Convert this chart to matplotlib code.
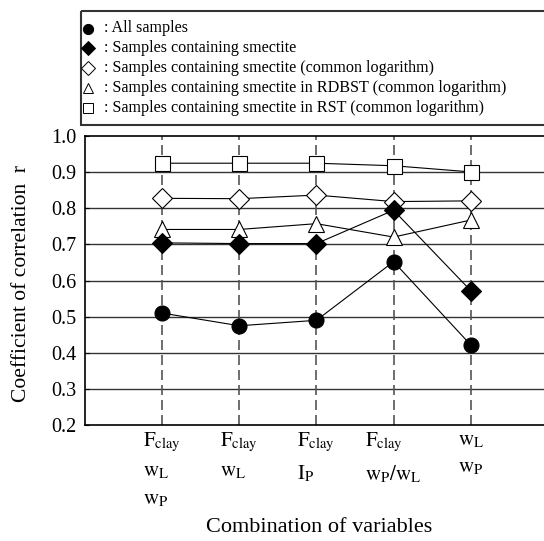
import matplotlib
matplotlib.use('Agg')
import matplotlib.pyplot as plt
from matplotlib.patches import Rectangle

plt.rcParams['font.family'] = ['Liberation Serif', 'DejaVu Serif']
plt.rcParams['mathtext.fontset'] = 'stix'

# Kombinationen der Variablen (x-Achse)
combos = [
    r'$\mathrm{F}_{\mathrm{clay}}$' + '\n' + r'$\mathrm{w}_{\mathrm{L}}$' + '\n' + r'$\mathrm{w}_{\mathrm{P}}$',
    r'$\mathrm{F}_{\mathrm{clay}}$' + '\n' + r'$\mathrm{w}_{\mathrm{L}}$',
    r'$\mathrm{F}_{\mathrm{clay}}$' + '\n' + r'$\mathrm{I}_{\mathrm{P}}$',
    r'$\mathrm{F}_{\mathrm{clay}}$' + '\n' + r'$\mathrm{w}_{\mathrm{P}}/\mathrm{w}_{\mathrm{L}}$',
    r'$\mathrm{w}_{\mathrm{L}}$' + '\n' + r'$\mathrm{w}_{\mathrm{P}}$',
]
x_pos = [1, 2, 3, 4, 5]

# Korrelationskoeffizienten r
all_samples = [0.51, 0.475, 0.49, 0.652, 0.422]
smectite = [0.704, 0.702, 0.702, 0.794, 0.572]
smectite_log = [0.827, 0.826, 0.836, 0.818, 0.82]
rdbst_log = [0.741, 0.741, 0.757, 0.72, 0.767]
rst_log = [0.924, 0.924, 0.924, 0.917, 0.90]

legend_labels = [
    'All samples',
    'Samples containing smectite',
    'Samples containing smectite (common logarithm)',
    'Samples containing smectite in RDBST (common logarithm)',
    'Samples containing smectite in RST (common logarithm)',
]

# Marker-Stile pro Serie (gleiche Reihenfolge wie legend_labels)
styles = [
    dict(marker='o', mfc='black', ms=10.8),
    dict(marker='D', mfc='black', ms=10.0),
    dict(marker='D', mfc='white', ms=10.0),
    dict(marker='^', mfc='white', ms=11.5),
    dict(marker='s', mfc='white', ms=10.8),
]
series = [all_samples, smectite, smectite_log, rdbst_log, rst_log]

fig = plt.figure(figsize=(5.44, 5.41), dpi=100)
W, H = 544, 541
ax = fig.add_axes([85 / W, 1 - 425.3 / H, (W - 85) / W, (425.3 - 135.7) / H])

# Gitternetz
for yv in [0.3, 0.4, 0.5, 0.6, 0.7, 0.8, 0.9]:
    ax.axhline(yv, color='#333333', lw=1.0, zorder=1)
for xv in x_pos:
    ax.axvline(xv, color='#555555', lw=1.2, dashes=(6, 3), zorder=1)

# Serien, gefüllte Marker oben
for vals, st in reversed(list(zip(series, styles))):
    ax.plot(x_pos, vals, color='black', lw=0.8, marker=st['marker'],
            mfc=st['mfc'], mec='black', mew=0.8, ms=st['ms'], zorder=3)

ax.set_xlim(0, 5.95)
ax.set_ylim(0.2, 1.0)
ax.set_yticks([0.2, 0.3, 0.4, 0.5, 0.6, 0.7, 0.8, 0.9, 1.0])
ax.set_yticklabels(['0.2', '0.3', '0.4', '0.5', '0.6', '0.7', '0.8', '0.9', '1.0'])
ax.tick_params(axis='y', direction='in', length=3, labelsize=14.5, pad=6)
ax.set_xticks([])
ax.spines['right'].set_visible(False)
for s in ['left', 'bottom', 'top']:
    ax.spines[s].set_linewidth(1.2)

# x-Beschriftungen (mehrzeilig)
for xv, lab in zip(x_pos, combos):
    ax.annotate(lab, xy=(xv, 0), xycoords=('data', 'axes fraction'),
                xytext=(0, -4), textcoords='offset points', ha='center', va='top',
                multialignment='left', fontsize=15, linespacing=1.6)

ax.text(-0.138, 0.49, 'Coefficient of correlation  r', rotation=90, transform=ax.transAxes,
        ha='center', va='center', fontsize=15.5)
fig.text(319 / W, 1 - 528 / H, 'Combination of variables', ha='center', va='center', fontsize=16)

# Legende manuell
lax = fig.add_axes([0, 0, 1, 1], zorder=5)
lax.set_xlim(0, W)
lax.set_ylim(H, 0)
lax.axis('off')
lax.add_patch(Rectangle((81, 10.7), 480, 114.5, fill=False, ec='#333333', lw=1.5))
for i, (lab, st) in enumerate(zip(legend_labels, styles)):
    yy = 28.5 + i * 19.9
    lax.plot([88], [yy], marker=st['marker'], mfc=st['mfc'], mec='black', mew=0.7,
             ms=st['ms'] * 0.68, color='black')
    lax.text(104, yy, ': ' + lab, ha='left', va='center', fontsize=11.6)

fig.savefig('out.png', dpi=100)
